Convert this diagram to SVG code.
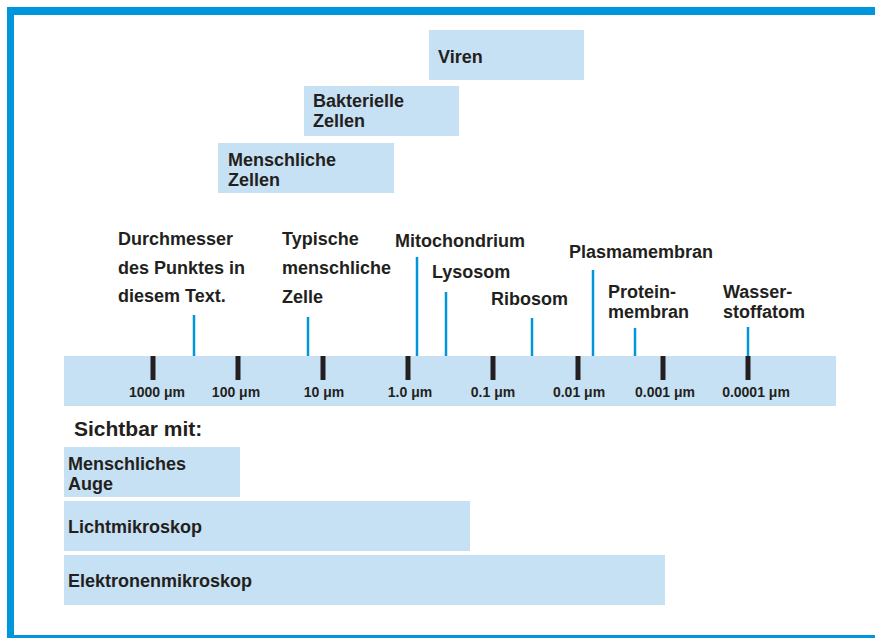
<svg xmlns="http://www.w3.org/2000/svg" width="875" height="638" viewBox="0 0 875 638">
<style>
.t{font-family:"Liberation Sans",Arial,sans-serif;font-weight:bold;fill:#231f20;font-size:18px}
.s{font-size:14px}
.h{font-size:21px}
.box{fill:#c7e1f4}
.ptr{stroke:#0096db;stroke-width:2.5}
.tick{stroke:#231f20;stroke-width:5}
</style>
<rect width="875" height="638" fill="#ffffff"/>
<g id="frame" fill="#0096db">
<rect x="7" y="7" width="868" height="8"/>
<rect x="7" y="7" width="7" height="631"/>
<rect x="7" y="635" width="868" height="3"/>
</g>
<g id="viren"><rect class="box" x="429" y="30" width="155" height="50"/><text class="t" x="438" y="63">Viren</text></g>
<g id="bakterielle"><rect class="box" x="304" y="86" width="155" height="50"/><text class="t" x="313" y="107">Bakterielle</text><text class="t" x="313" y="127">Zellen</text></g>
<g id="menschliche-zellen"><rect class="box" x="218" y="143" width="176" height="50"/><text class="t" x="228" y="166">Menschliche</text><text class="t" x="228" y="186">Zellen</text></g>
<g id="scale">
<rect class="box" x="64" y="356" width="772" height="50"/>
<g class="tick">
<line x1="153" y1="356" x2="153" y2="380"/><line x1="238" y1="356" x2="238" y2="380"/>
<line x1="323" y1="356" x2="323" y2="380"/><line x1="408" y1="356" x2="408" y2="380"/>
<line x1="493" y1="356" x2="493" y2="380"/><line x1="578" y1="356" x2="578" y2="380"/>
<line x1="663" y1="356" x2="663" y2="380"/><line x1="748" y1="356" x2="748" y2="380"/>
</g>
<g text-anchor="middle">
<text class="t s" x="157" y="397">1000 μm</text><text class="t s" x="236" y="397">100 μm</text>
<text class="t s" x="324" y="397">10 μm</text><text class="t s" x="410" y="397">1.0 μm</text>
<text class="t s" x="493" y="397">0.1 μm</text><text class="t s" x="579" y="397">0.01 μm</text>
<text class="t s" x="665" y="397">0.001 μm</text><text class="t s" x="756" y="397">0.0001 μm</text>
</g>
</g>
<g id="connectors" class="ptr">
<line x1="194" y1="315" x2="194" y2="356"/>
<line x1="308" y1="317" x2="308" y2="356"/>
<line x1="417" y1="257" x2="417" y2="356"/>
<line x1="446" y1="292" x2="446" y2="356"/>
<line x1="532" y1="318" x2="532" y2="356"/>
<line x1="593" y1="270" x2="593" y2="356"/>
<line x1="635" y1="328" x2="635" y2="356"/>
<line x1="748" y1="327" x2="748" y2="356"/>
</g>
<g id="punkt"><text class="t" x="118" y="245">Durchmesser</text><text class="t" x="118" y="274">des Punktes in</text><text class="t" x="118" y="302">diesem Text.</text></g>
<g id="typische-zelle"><text class="t" x="282" y="245">Typische</text><text class="t" x="282" y="274">menschliche</text><text class="t" x="282" y="303">Zelle</text></g>
<g id="mitochondrium"><text class="t" x="395" y="247">Mitochondrium</text></g>
<g id="lysosom"><text class="t" x="432" y="278">Lysosom</text></g>
<g id="ribosom"><text class="t" x="491" y="305">Ribosom</text></g>
<g id="plasmamembran"><text class="t" x="569" y="258">Plasmamembran</text></g>
<g id="proteinmembran"><text class="t" x="608" y="298">Protein-</text><text class="t" x="608" y="318">membran</text></g>
<g id="wasserstoffatom"><text class="t" x="723" y="298">Wasser-</text><text class="t" x="723" y="318">stoffatom</text></g>
<g id="sichtbar"><text class="t h" x="74" y="436">Sichtbar mit:</text></g>
<g id="auge"><rect class="box" x="64" y="447" width="176" height="50"/><text class="t" x="68" y="470">Menschliches</text><text class="t" x="68" y="490">Auge</text></g>
<g id="licht"><rect class="box" x="64" y="501" width="406" height="50"/><text class="t" x="68" y="533">Lichtmikroskop</text></g>
<g id="elektronen"><rect class="box" x="64" y="555" width="601" height="50"/><text class="t" x="68" y="587">Elektronenmikroskop</text></g>
</svg>
